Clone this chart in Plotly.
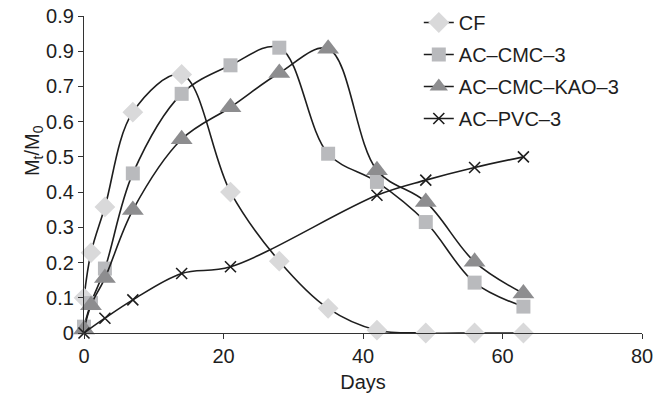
import plotly.graph_objects as go

days = [0, 1, 3, 7, 14, 21, 28, 35, 42, 49, 56, 63]
cf = [0.10, 0.228, 0.358, 0.627, 0.734, 0.40, 0.204, 0.07, 0.008, 0.0, 0.0, 0.0]
ac_cmc_3 = [0.018, 0.085, 0.183, 0.453, 0.679, 0.76, 0.81, 0.509, 0.429, 0.315, 0.143, 0.075]
ac_cmc_kao_3 = [0.01, 0.079, 0.156, 0.349, 0.55, 0.641, 0.738, 0.807, 0.462, 0.372, 0.202, 0.112]
ac_pvc_3 = [0.0, 0.042, 0.094, 0.169, 0.188, 0.391, 0.434, 0.47, 0.50]
pvc_days = [0, 3, 7, 14, 21, 42, 49, 56, 63]

names = ["CF", "AC\u2013CMC\u20133", "AC\u2013CMC\u2013KAO\u20133", "AC\u2013PVC\u20133"]
y_tickvals = [0, 0.1, 0.2, 0.3, 0.4, 0.5, 0.6, 0.7, 0.8, 0.9]
y_ticktext = ["0", "0.1", "0.2", "0.3", "0.4", "0.5", "0.6", "0.7", "0.9", "0.9"]
x_tickvals = [0, 20, 40, 60, 80]

FONT = "Liberation Sans, Arial, sans-serif"
INK = "#1e1e1e"

fig = go.Figure()
series = [
    (days, cf, names[0], dict(symbol="diamond", size=16, color="#d9d9da")),
    (days, ac_cmc_3, names[1], dict(symbol="square", size=14, color="#b9babd")),
    (days, ac_cmc_kao_3, names[2], dict(symbol="triangle-up", size=19, color="#8d8d8f")),
    (pvc_days, ac_pvc_3, names[3], dict(symbol="x-thin", size=11, color=INK,
                                        line=dict(width=1.6, color=INK))),
]
for i, (x, y, n, m) in enumerate(series):
    fig.add_trace(go.Scatter(
        x=x, y=y, name=n, mode="lines+markers", legendgroup=f"g{i}",
        line=dict(color=INK, width=1.6, shape="spline", smoothing=1.0),
        marker=m, cliponaxis=False,
    ))

fig.update_layout(
    width=657, height=393,
    margin=dict(l=84, r=15, t=16, b=60, autoexpand=False),
    paper_bgcolor="white", plot_bgcolor="white",
    font=dict(family=FONT, size=20, color=INK),
    showlegend=True,
    legend=dict(x=0.6, y=1.041, xanchor="left", yanchor="top",
                bgcolor="rgba(0,0,0,0)", font=dict(size=20), tracegroupgap=3,
                itemwidth=30),
    annotations=[dict(text="M<sub>t</sub>/M<sub>0</sub>", textangle=-90,
                      xref="paper", yref="paper", x=-0.0914, y=0.577,
                      xanchor="center", yanchor="middle", showarrow=False,
                      font=dict(size=20, color=INK))],
)
fig.update_xaxes(range=[0, 80], tickvals=x_tickvals, showgrid=False, zeroline=False,
                 showline=True, linecolor="#333333", linewidth=1.3, automargin=False,
                 ticks="outside", ticklen=5, tickcolor="#333333", ticklabeloverflow="allow",
                 title=dict(text="Days", standoff=14, font=dict(size=20)))
fig.update_yaxes(range=[0, 0.9], tickvals=y_tickvals, ticktext=y_ticktext,
                 showgrid=False, zeroline=False, automargin=False,
                 showline=True, linecolor="#333333", linewidth=1.3,
                 ticks="outside", ticklen=5, tickcolor="#333333", ticklabeloverflow="allow")

fig.write_html(
    "out.html",
    config={"displayModeBar": False},
    post_script="document.body.style.margin='0px';document.body.style.overflow='hidden';",
)
